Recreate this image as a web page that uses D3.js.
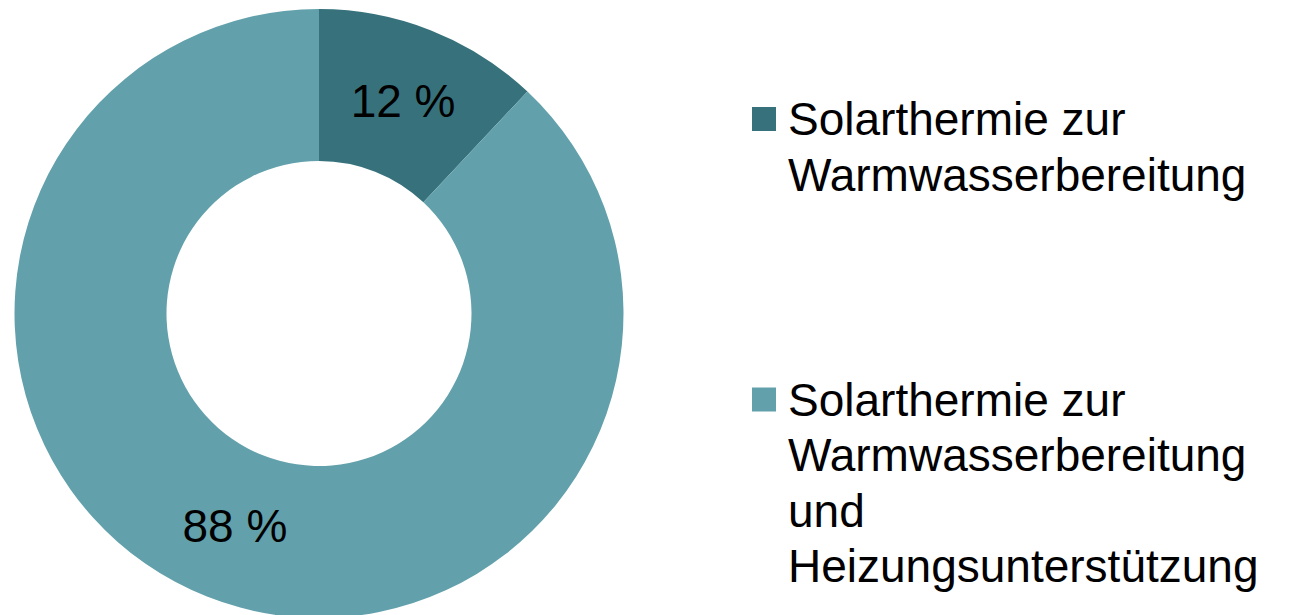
<!DOCTYPE html>
<html>
<head>
<meta charset="utf-8">
<script src="https://cdn.jsdelivr.net/npm/d3@7"></script>
<style>
  body { margin: 0; background: #fff; }
  svg { display: block; }
</style>
</head>
<body>
<svg id="chart" width="1293" height="615"></svg>
<script>
// data
const categories = [
  "Solarthermie zur Warmwasserbereitung",
  "Solarthermie zur Warmwasserbereitung und Heizungsunterstützung"
];
const shares = [12, 88];
const legendLines = [
  ["Solarthermie zur", "Warmwasserbereitung"],
  ["Solarthermie zur", "Warmwasserbereitung", "und", "Heizungsunterstützung"]
];
const colors = ["#37727c", "#62a1ab"];

const svg = d3.select("#chart");
const font = "'Liberation Sans', Arial, sans-serif";

const cx = 319, cy = 313.5;
const outerR = 304.5, innerR = 152.5;

const color = d3.scaleOrdinal().domain(categories).range(colors);

const pie = d3.pie().sort(null).value(d => d.value);
const arcs = pie(categories.map((c, i) => ({ name: c, value: shares[i] })));

const arc = d3.arc().innerRadius(innerR).outerRadius(outerR);

const g = svg.append("g").attr("transform", `translate(${cx},${cy})`);

g.selectAll("path")
  .data(arcs)
  .enter()
  .append("path")
  .attr("d", arc)
  .attr("fill", d => color(d.data.name));

g.selectAll("text.label")
  .data(arcs)
  .enter()
  .append("text")
  .attr("class", "label")
  .attr("x", d => arc.centroid(d)[0])
  .attr("y", d => arc.centroid(d)[1] + 16)
  .attr("text-anchor", "middle")
  .style("font-family", font)
  .style("font-size", "46px")
  .style("fill", "#000")
  .text(d => `${d.data.value} %`);

// legend
const legendX = 752, legendTops = [135, 415.5];
const lineH = 55.5;

const legend = svg.selectAll("g.legend")
  .data(categories)
  .enter()
  .append("g")
  .attr("class", "legend")
  .attr("transform", (d, i) => `translate(${legendX},${legendTops[i]})`);

legend.append("rect")
  .attr("x", 0)
  .attr("y", -28)
  .attr("width", 24)
  .attr("height", 24)
  .attr("fill", d => color(d));

legend.append("text")
  .style("font-family", font)
  .style("font-size", "46px")
  .style("fill", "#000")
  .selectAll("tspan")
  .data((d, i) => legendLines[i])
  .enter()
  .append("tspan")
  .attr("x", 36)
  .attr("y", (d, j) => j * lineH)
  .text(d => d);
</script>
</body>
</html>
